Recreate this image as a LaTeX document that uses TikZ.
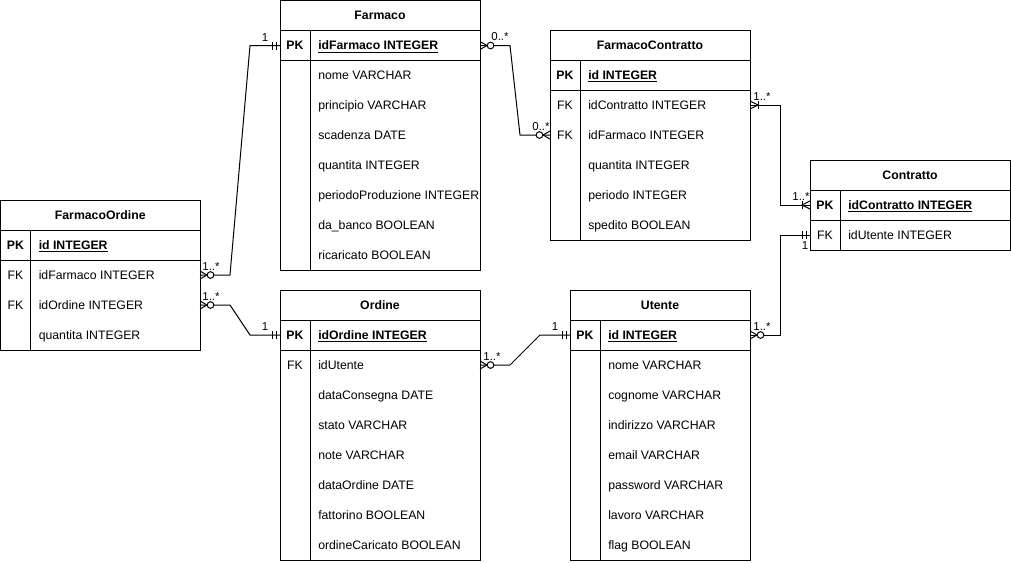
\documentclass[tikz,border=0pt]{standalone}
\usepackage{fontspec}
\setmainfont{Liberation Sans}
\tikzset{
  tline/.style={line width=0.75pt, draw=black},
  ttitle/.style={inner sep=0pt, font=\fontsize{9.2}{11}\selectfont\bfseries, text height=6.6pt, text depth=0pt},
  tkey/.style={inner sep=0pt, font=\fontsize{9.2}{11}\selectfont, text height=6.6pt, text depth=0pt},
  tfield/.style={inner sep=0pt, anchor=west, font=\fontsize{9.2}{11}\selectfont, text height=6.6pt, text depth=0pt},
  conn/.style={line width=0.75pt, draw=black},
  card/.style={inner sep=0pt, font=\fontsize{8.6}{10}\selectfont, text height=6.3pt, text depth=0pt},
}
% #1 name, #2 x, #3 y, #4 width, #5 rows, #6 title, #7 rows list
\newcommand\ertbl[7]{%
  \draw[tline] (#2,#3) rectangle ({#2+#4},{#3+30+30*#5});
  \draw[tline] (#2,{#3+30}) -- ({#2+#4},{#3+30});
  \draw[tline] (#2,{#3+60}) -- ({#2+#4},{#3+60});
  \draw[tline] ({#2+30},{#3+30}) -- ({#2+30},{#3+30+30*#5});
  \node[ttitle] (#1) at ({#2+#4/2},{#3+15}) {#6};
  \foreach [count=\i] \k/\f in {#7} {
    \coordinate (#1-w\i) at (#2,{#3+15+30*\i});
    \coordinate (#1-e\i) at ({#2+#4},{#3+15+30*\i});
    \ifnum\i=1
      \node[tkey,font=\fontsize{9.2}{11}\selectfont\bfseries] (#1-k\i) at ({#2+15},{#3+15+30*\i}) {\k};
      \node[tfield,font=\fontsize{9.2}{11}\selectfont\bfseries] (#1-f\i) at ({#2+38},{#3+15+30*\i}) {\underline{\f}};
    \else
      \node[tkey] (#1-k\i) at ({#2+15},{#3+15+30*\i}) {\k};
      \node[tfield] (#1-f\i) at ({#2+38},{#3+15+30*\i}) {\f};
    \fi
  }
}
% zero or many: #1 coordinate, #2 direction (+1 right, -1 left)
\newcommand\zmany[2]{%
  \draw[conn] ([yshift=3pt]#1) -- ([xshift=#2*5.25pt]#1) -- ([yshift=-3pt]#1);
  \draw[conn, fill=white] ([xshift=#2*7.9pt]#1) circle (2.5pt);
}
% one or many
\newcommand\omany[2]{%
  \draw[conn] ([yshift=3pt]#1) -- ([xshift=#2*6pt]#1) -- ([yshift=-3pt]#1);
  \draw[conn] ([xshift=#2*6pt,yshift=3pt]#1) -- ([xshift=#2*6pt,yshift=-3pt]#1);
}
% mandatory one
\newcommand\mone[2]{%
  \draw[conn] ([xshift=#2*3pt,yshift=3pt]#1) -- ([xshift=#2*3pt,yshift=-3pt]#1);
  \draw[conn] ([xshift=#2*5.6pt,yshift=3pt]#1) -- ([xshift=#2*5.6pt,yshift=-3pt]#1);
}
\begin{document}
\begin{tikzpicture}[x=0.75pt,y=-0.75pt]
\useasboundingbox (0,0) rectangle (1011,562);

\ertbl{farmaco}{280}{0.5}{200}{8}{Farmaco}{PK/idFarmaco INTEGER, /nome VARCHAR, /principio VARCHAR, /scadenza DATE, /quantita INTEGER, /periodoProduzione INTEGER, /da\_banco BOOLEAN, /ricaricato BOOLEAN}
\ertbl{fc}{550}{30}{200}{6}{FarmacoContratto}{PK/id INTEGER, FK/idContratto INTEGER, FK/idFarmaco INTEGER, /quantita INTEGER, /periodo INTEGER, /spedito BOOLEAN}
\ertbl{contratto}{810}{160}{200}{2}{Contratto}{PK/idContratto INTEGER, FK/idUtente INTEGER}
\ertbl{fo}{0.5}{200}{199.5}{4}{FarmacoOrdine}{PK/id INTEGER, FK/idFarmaco INTEGER, FK/idOrdine INTEGER, /quantita INTEGER}
\ertbl{ordine}{280}{290}{200}{8}{Ordine}{PK/idOrdine INTEGER, FK/idUtente, /dataConsegna DATE, /stato VARCHAR, /note VARCHAR, /dataOrdine DATE, /fattorino BOOLEAN, /ordineCaricato BOOLEAN}
\ertbl{utente}{570}{290}{180}{8}{Utente}{PK/id INTEGER, /nome VARCHAR, /cognome VARCHAR, /indirizzo VARCHAR, /email VARCHAR, /password VARCHAR, /lavoro VARCHAR, /flag BOOLEAN}

% connectors
\draw[conn] (fo-e2) -- ++(30,0) -- ([xshift=-22.5pt]farmaco-w1) -- (farmaco-w1);
\draw[conn] (fo-e3) -- ++(30,0) -- ([xshift=-22.5pt]ordine-w1) -- (ordine-w1);
\draw[conn] (farmaco-e1) -- ++(30,0) -- ([xshift=-22.5pt]fc-w3) -- (fc-w3);
\draw[conn] (fc-e2) -- ++(30,0) |- (contratto-w1);
\draw[conn] (contratto-w2) -- ++(-30,0) |- (utente-e1);
\draw[conn] (ordine-e2) -- ++(30,0) -- ([xshift=-22.5pt]utente-w1) -- (utente-w1);

% end markers
\zmany{fo-e2}{1} \mone{farmaco-w1}{-1}
\zmany{fo-e3}{1} \mone{ordine-w1}{-1}
\zmany{farmaco-e1}{1} \zmany{fc-w3}{-1}
\omany{fc-e2}{1} \omany{contratto-w1}{-1}
\mone{contratto-w2}{-1} \zmany{utente-e1}{1}
\zmany{ordine-e2}{1} \mone{utente-w1}{-1}

% cardinality labels
\node[card] (l1a) at (211,266) {1..*};
\node[card] (l1b) at (265,37) {1};
\node[card] (l2a) at (211,296) {1..*};
\node[card] (l2b) at (265,326) {1};
\node[card] (l3a) at (500,36) {0..*};
\node[card] (l3b) at (541,126) {0..*};
\node[card] (l4a) at (762,96) {1..*};
\node[card] (l4b) at (801,196) {1..*};
\node[card] (l5a) at (805,245) {1};
\node[card] (l5b) at (762,326) {1..*};
\node[card] (l6a) at (492,356) {1..*};
\node[card] (l6b) at (555,326) {1};
\end{tikzpicture}
\end{document}
